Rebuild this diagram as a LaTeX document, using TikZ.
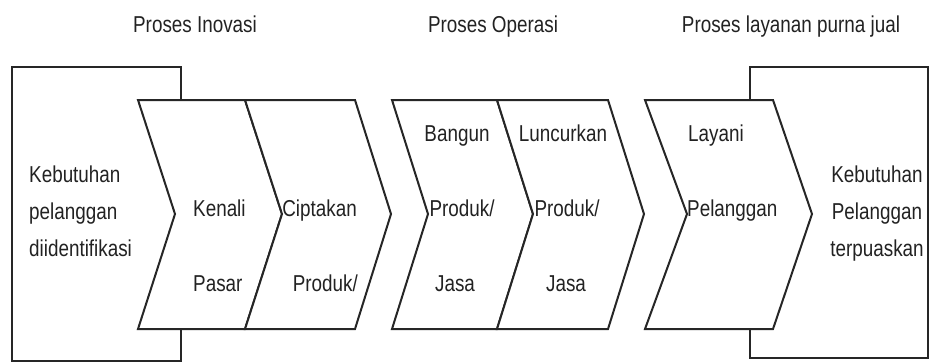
\documentclass[tikz,border=0pt]{standalone}
\usepackage{fontspec}
\setmainfont[FakeStretch=0.82]{Liberation Sans}
\definecolor{ink}{HTML}{262626}
\definecolor{txt}{HTML}{222222}
\begin{document}
\begin{tikzpicture}[x=1pt,y=-1pt,
  frame/.style={draw=ink, line width=2pt, fill=white, line join=miter},
  lbl/.style={font=\fontsize{23}{37}\selectfont, text=txt, inner sep=0pt},
  head/.style={lbl}]
\useasboundingbox (0,0) rectangle (931,362);

% end boxes
\draw[frame] (12,67) rectangle (181,361);
\draw[frame] (750,67) rectangle (928,358);

% chevrons (top left, notch, bottom left, bottom right, tip, top right)
\draw[frame] (138,100) -- (175,214) -- (138,329) -- (245,329) -- (282,214) -- (245,100) -- cycle;
\draw[frame] (245,100) -- (282,214) -- (245,329) -- (355,329) -- (391,214) -- (355,100) -- cycle;
\draw[frame] (392,100) -- (428,214) -- (392,329) -- (497,329) -- (533,214) -- (497,100) -- cycle;
\draw[frame] (497,100) -- (533,214) -- (497,329) -- (608,329) -- (644,214) -- (608,100) -- cycle;
\draw[frame] (645,100) -- (687,214) -- (645,329) -- (773,329) -- (812,214) -- (773,100) -- cycle;

% headings
\node[head, anchor=base] (hInov) at (195,32) {Proses Inovasi};
\node[head, anchor=base] (hOps)  at (493,32) {Proses Operasi};
\node[head, anchor=base] (hJual) at (791,32) {Proses layanan purna jual};

% left box
\node[lbl, anchor=base west] (l1) at (29,182) {Kebutuhan};
\node[lbl, anchor=base west] (l2) at (29,219) {pelanggan};
\node[lbl, anchor=base west] (l3) at (29,256) {diidentifikasi};

% chevron labels
\node[lbl, anchor=base west] (c1a) at (193,216) {Kenali};
\node[lbl, anchor=base west] (c1b) at (193,291) {Pasar};
\node[lbl, anchor=base east] (c2a) at (357,216) {Ciptakan};
\node[lbl, anchor=base east] (c2b) at (358,291) {Produk/};
\node[lbl, anchor=base] (c3a) at (457,141) {Bangun};
\node[lbl, anchor=base] (c3b) at (462,216) {Produk/};
\node[lbl, anchor=base] (c3c) at (455,291) {Jasa};
\node[lbl, anchor=base] (c4a) at (563,141) {Luncurkan};
\node[lbl, anchor=base] (c4b) at (567,216) {Produk/};
\node[lbl, anchor=base] (c4c) at (566,291) {Jasa};
\node[lbl, anchor=base west] (c5a) at (688,141) {Layani};
\node[lbl, anchor=base west] (c5b) at (687,216) {Pelanggan};

% right box
\node[lbl, anchor=base] (r1) at (877,182) {Kebutuhan};
\node[lbl, anchor=base] (r2) at (877,219) {Pelanggan};
\node[lbl, anchor=base] (r3) at (877,256) {terpuaskan};
\end{tikzpicture}
\end{document}
